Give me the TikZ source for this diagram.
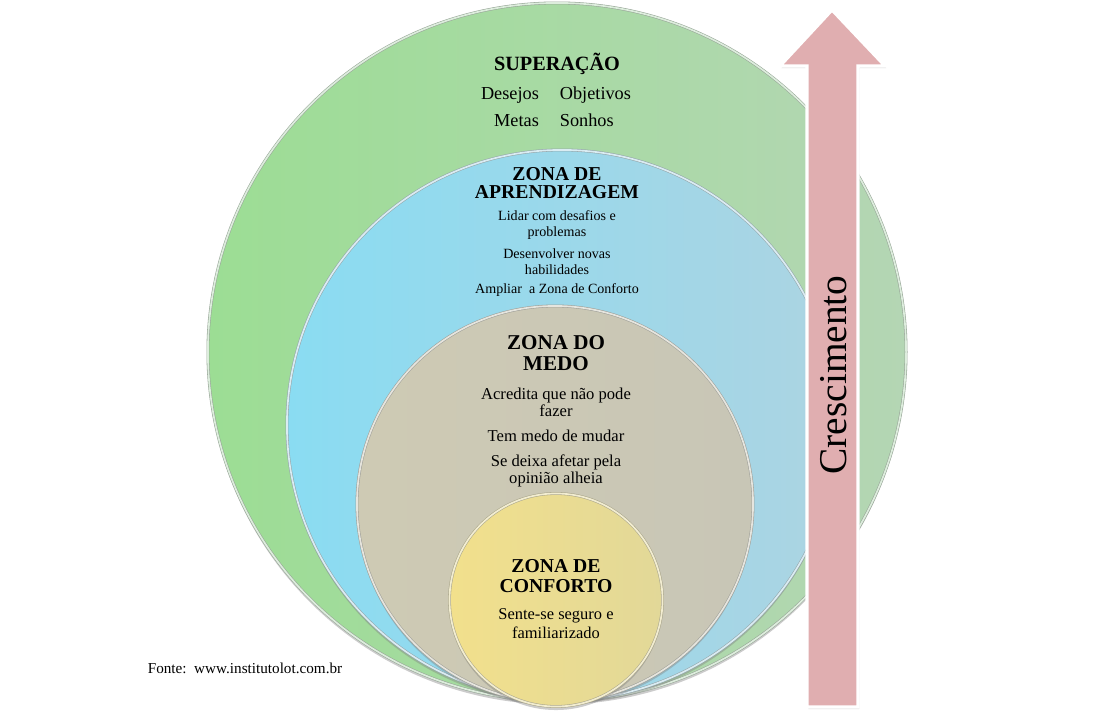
\documentclass[tikz,border=0pt]{standalone}
\usepackage{fontspec}
\setmainfont{Liberation Serif}
\usetikzlibrary{shadows}
\definecolor{superL}{RGB}{156, 221, 148}
\definecolor{superR}{RGB}{180, 214, 180}
\definecolor{aprenL}{RGB}{138, 220, 242}
\definecolor{aprenR}{RGB}{172, 212, 226}
\definecolor{medoL}{RGB}{206, 202, 180}
\definecolor{medoR}{RGB}{200, 198, 182}
\definecolor{confL}{RGB}{242, 224, 140}
\definecolor{confR}{RGB}{226, 216, 152}
\definecolor{grow}{RGB}{224, 174, 176}

\begin{document}
\begin{tikzpicture}[
    x=0.025cm, y=-0.025cm,
    zone/.style={
        circle, inner sep=0pt, line width=0.4pt,
        double distance=1.2pt,
        drop shadow={opacity=0.4, shadow xshift=0pt, shadow yshift=-2.5pt},
    },
    zonetitle/.style={font=\bfseries\fontsize{14}{13}\selectfont, align=center},
    item/.style={font=\fontsize{10}{11.5}\selectfont, align=center},
    bigitem/.style={font=\fontsize{11.8}{12.2}\selectfont, align=center},
    growarrow/.style={
        fill=grow, draw=white, line width=2.2pt, line join=miter,
        drop shadow={opacity=0.3, shadow xshift=1pt, shadow yshift=-1.5pt},
    },
]
\useasboundingbox (0,0) rectangle (1113,723);

% =============== Circles (outer to inner) ===============
\node[zone, minimum size=17.45cm, left color=superL, right color=superR,
      draw=superR!60!black!70, double=white!55!superR] (superacao) at (557,352) {};
\node[zone, minimum size=13.75cm, left color=aprenL, right color=aprenR,
      draw=aprenR!60!black!70, double=white!55!aprenR] (aprendizagem) at (562,425) {};
\node[zone, minimum size=9.9cm, left color=medoL, right color=medoR,
      draw=medoR!60!black!70, double=white!55!medoR] (medo) at (555,504) {};
\node[zone, minimum size=5.325cm, left color=confL, right color=confR,
      draw=confR!60!black!70, double=white!55!confR] (conforto) at (556,600) {};

% =============== Superacao ===============
\node[zonetitle, font=\bfseries\fontsize{14.4}{14}\selectfont] (tSuper) at (557,64) {SUPERAÇÃO};
\node[font=\fontsize{13}{19}\selectfont] (tSonhos) at (556,108)
    {\begin{tabular}{@{}r@{\hspace{1.15em}}l@{}}Desejos & Objetivos\\ Metas & Sonhos\end{tabular}};

% =============== Zona de aprendizagem ===============
\node[zonetitle] (tAprend) at (557,183) {ZONA DE\\APRENDIZAGEM};
\node[item] (tLidar) at (557,225) {Lidar com desafios e\\problemas};
\node[item] (tDesenv) at (557,261.5) {Desenvolver novas\\habilidades};
\node[item] (tAmpliar) at (557,290) {Ampliar\ \ a Zona de Conforto};

% =============== Zona do medo ===============
\node[zonetitle, font=\bfseries\fontsize{15}{15}\selectfont] (tMedo) at (556,353.5) {ZONA DO\\MEDO};
\node[bigitem] (tAcredita) at (556,402.5) {Acredita que não pode\\fazer};
\node[bigitem] (tTem) at (556,436) {Tem medo de mudar};
\node[bigitem] (tDeixa) at (556,471) {Se deixa afetar pela\\opinião alheia};

% =============== Zona de conforto ===============
\node[zonetitle, font=\bfseries\fontsize{14}{14.2}\selectfont] (tConforto) at (556,576) {ZONA DE\\CONFORTO};
\node[bigitem, font=\fontsize{11.7}{13.5}\selectfont] (tSente) at (556,623.5) {Sente-se seguro e\\familiarizado};

% =============== Growth arrow ===============
\draw[growarrow] (832,10) -- (885,66) -- (858,66) -- (858,707)
    -- (807,707) -- (807,66) -- (780,66) -- cycle;
\node[rotate=90, font=\fontsize{28}{28}\selectfont] (crescimento) at (834,375) {Crescimento};

% Source
\node[font=\fontsize{10.8}{12}\selectfont] (fonte) at (245,668) {Fonte:\ \ www.institutolot.com.br};

\end{tikzpicture}
\end{document}
